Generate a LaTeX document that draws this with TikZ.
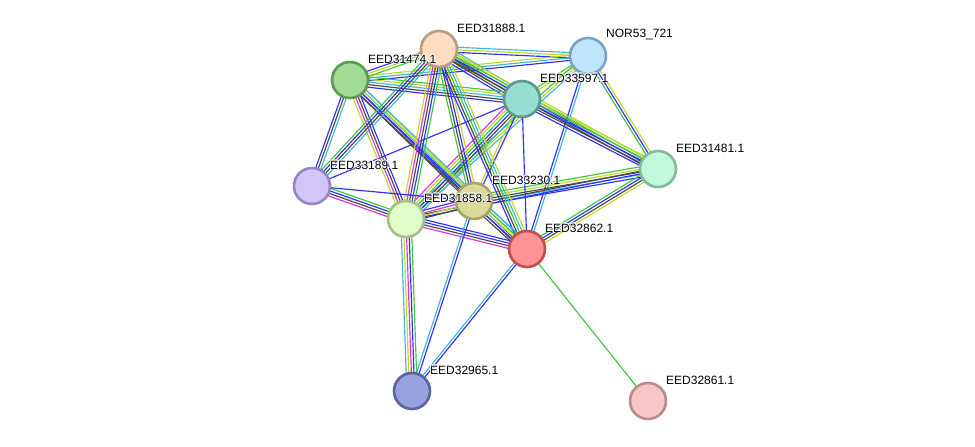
\documentclass[tikz,border=0pt]{standalone}
\usepackage{fontspec}
\setmainfont{Liberation Sans}
\usetikzlibrary{calc,backgrounds}
\definecolor{cB}{HTML}{3030F5}
\definecolor{cK}{HTML}{484848}
\definecolor{cG}{HTML}{3CC83C}
\definecolor{cY}{HTML}{C2D62A}
\definecolor{cC}{HTML}{3CB8DA}
\definecolor{cM}{HTML}{DC32DC}
\tikzset{
  prot/.style={circle,minimum size=36pt,line width=2.6pt,inner sep=0pt},
  lbl/.style={anchor=west,font=\fontsize{12}{12}\selectfont,inner sep=0pt,text=black},
  halo/.style={lbl,text=white},
  edgeline/.style={line width=1.15pt}
}
\newcommand\multiedge[3]{%
  \gdef\nn{0}%
  \foreach \c in {#3}{\xdef\nn{\the\numexpr\nn+1\relax}}%
  \foreach \c [count=\i] in {#3}{%
    \pgfmathsetmacro\off{(\i-(\nn+1)/2)*2.6}%
    \draw[\c, edgeline] ($(#1)!\off pt!90:(#2)$) -- ($(#2)!\off pt!-90:(#1)$);
  }%
}
\newcommand\prot[6]{%
  \node[prot,fill=#4,draw=#5] (#1) at (#2,#3) {};
  \foreach \dx/\dy [count=\k] in {0.8/0,-0.8/0,0/0.8,0/-0.8,0.6/0.6,-0.6/0.6,0.6/-0.6,-0.6/-0.6}
    \node[halo] (#1h\k) at (#2+18+\dx,#3-21+\dy) {#6};
  \node[lbl] (#1l) at (#2+18,#3-21) {#6};
}
\begin{document}
\begin{tikzpicture}[x=1pt,y=-1pt]
\useasboundingbox (0,0) rectangle (975,447);
\definecolor{f1}{HTML}{FDDCC0}\definecolor{b1}{HTML}{B89C80}
\definecolor{f2}{HTML}{BFE5FB}\definecolor{b2}{HTML}{7BA4BF}
\definecolor{f3}{HTML}{A0DC94}\definecolor{b3}{HTML}{5E9A55}
\definecolor{f4}{HTML}{98DCD3}\definecolor{b4}{HTML}{5A9A91}
\definecolor{f5}{HTML}{C2F9DA}\definecolor{b5}{HTML}{80BC9B}
\definecolor{f6}{HTML}{D2C6F9}\definecolor{b6}{HTML}{9585C2}
\definecolor{f7}{HTML}{DCDA9A}\definecolor{b7}{HTML}{A6A468}
\definecolor{f8}{HTML}{E2FEC8}\definecolor{b8}{HTML}{A6BE8C}
\definecolor{f9}{HTML}{FF9292}\definecolor{b9}{HTML}{C05050}
\definecolor{f10}{HTML}{98A2DF}\definecolor{b10}{HTML}{5964A0}
\definecolor{f11}{HTML}{F8C6C6}\definecolor{b11}{HTML}{B88A8A}
\prot{a}{439}{49}{f1}{b1}{EED31888.1}
\prot{n}{588}{56}{f2}{b2}{NOR53\_721}
\prot{b}{350}{80}{f3}{b3}{EED31474.1}
\prot{c}{522}{99}{f4}{b4}{EED33597.1}
\prot{d}{658}{169}{f5}{b5}{EED31481.1}
\prot{e}{312}{186}{f6}{b6}{EED33189.1}
\prot{f}{474}{201}{f7}{b7}{EED33230.1}
\prot{g}{406}{219}{f8}{b8}{EED31858.1}
\prot{h}{527}{249}{f9}{b9}{EED32862.1}
\prot{i}{412}{391}{f10}{b10}{EED32965.1}
\prot{j}{648}{401}{f11}{b11}{EED32861.1}
\begin{pgfonlayer}{background}
\fill[white] (0,0) rectangle (975,447);
\multiedge{a}{n}{cB,cY,cC}
\multiedge{b}{n}{cB,cC,cY}
\multiedge{a}{c}{cB,cK,cK,cG,cY,cC}
\multiedge{b}{c}{cB,cK,cC,cY,cG}
\multiedge{a}{b}{cB,cY,cG}
\multiedge{a}{d}{cK,cB,cG,cY}
\multiedge{n}{c}{cG,cY}
\multiedge{n}{d}{cG,cB,cY}
\multiedge{n}{g}{cG,cY,cC}
\multiedge{n}{h}{cB,cC}
\multiedge{c}{d}{cB,cK,cB,cG,cY}
\multiedge{d}{f}{cG,cY,cK,cC,cB}
\multiedge{d}{g}{cK,cB}
\multiedge{d}{h}{cG,cB,cK,cY}
\multiedge{c}{h}{cB}
\multiedge{c}{g}{cM,cY,cG,cB,cK,cC}
\multiedge{c}{f}{cY,cB}
\multiedge{c}{e}{cB}
\multiedge{b}{e}{cB,cK,cC}
\multiedge{b}{g}{cY,cM,cK,cB}
\multiedge{b}{f}{cK,cB,cC,cY}
\multiedge{b}{h}{cK,cB,cY,cC}
\multiedge{a}{e}{cG,cB,cK,cC}
\multiedge{a}{g}{cY,cM,cK,cB,cG}
\multiedge{a}{f}{cG,cK,cB,cY}
\multiedge{a}{h}{cB,cK,cG,cC,cY}
\multiedge{e}{g}{cM,cK,cB,cG}
\multiedge{e}{f}{cB}
\multiedge{g}{f}{cK,cY,cM,cB}
\multiedge{g}{h}{cM,cK,cB,cB}
\multiedge{f}{h}{cK,cB,cY,cG,cC}
\multiedge{i}{g}{cG,cB,cM,cY,cC}
\multiedge{i}{f}{cB,cC}
\multiedge{i}{h}{cB,cC}
\multiedge{h}{j}{cG}
\end{pgfonlayer}
\end{tikzpicture}
\end{document}
